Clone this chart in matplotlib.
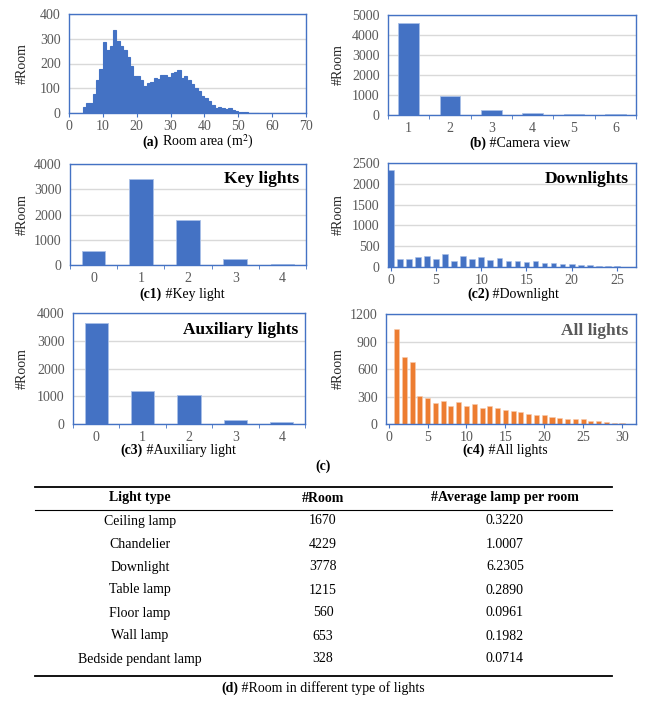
import numpy as np
import matplotlib
matplotlib.use("Agg")
import matplotlib.pyplot as plt
from matplotlib.lines import Line2D

plt.rcParams['font.family'] = ['Liberation Serif', 'DejaVu Serif']
plt.rcParams['mathtext.fontset'] = 'stix'

# ---------------- data ----------------
# (a) room area histogram, 1 m2 bins starting at 4
area_start = 4
area_counts = [24, 40, 39, 77, 135, 179, 287, 256, 271, 335, 292, 271, 256, 226, 191,
               148, 151, 133, 109, 121, 127, 143, 139, 152, 155, 147, 163, 166, 172, 143,
               148, 135, 118, 101, 88, 67, 61, 47, 31, 20, 23, 21, 16, 19, 13,
               7, 4, 4, 3, 2, 1, 1]

# (b) camera views
cam_views = [1, 2, 3, 4, 5, 6]
cam_counts = [4610, 950, 250, 100, 30, 50]

# (c1) key lights
key_n = [0, 1, 2, 3, 4]
key_counts = [556, 3390, 1775, 225, 53]

# (c2) downlights
down_n = list(range(0, 28))
down_counts = [2340, 192, 192, 240, 256, 184, 312, 144, 272, 200, 240, 168, 224, 144,
               136, 128, 136, 88, 88, 72, 72, 40, 40, 32, 16, 16, 8, 5]

# (c3) auxiliary lights
aux_n = [0, 1, 2, 3, 4]
aux_counts = [3640, 1177, 1033, 132, 72]

# (c4) all lights
all_n = list(range(1, 31))
all_counts = [1037, 736, 671, 308, 279, 228, 247, 199, 243, 199, 217, 178, 196, 174, 149,
              141, 134, 112, 98, 98, 80, 65, 51, 51, 58, 33, 29, 25, 14, 11]

# (d) table
light_types = ["Ceiling lamp", "Chandelier", "Downlight", "Table lamp", "Floor lamp",
               "Wall lamp", "Bedside pendant lamp"]
room_counts = ["1670", "4229", "3778", "1215", "560", "653", "328"]
avg_lamps = ["0.3220", "1.0007", "6.2305", "0.2890", "0.0961", "0.1982", "0.0714"]
table_header = ["Light type", "#Room", "#Average lamp per room"]

# ---------------- style ----------------
W, H = 646, 706
BLUE = "#4472C4"
ORANGE = "#ED7D31"
GRID = "#D9D9D9"
TICK = "#595959"
FS = 10

fig = plt.figure(figsize=(W / 100, H / 100), dpi=100)


def ax_at(l, t, r, b):
    return fig.add_axes([l / W, 1 - b / H, (r - l) / W, (b - t) / H])


def style(ax, ymax, ystep, ylabel_x, between=None):
    ax.set_ylim(0, ymax)
    ax.set_yticks(np.arange(0, ymax + 1, ystep))
    ax.yaxis.grid(True, color=GRID, lw=1)
    ax.set_axisbelow(True)
    for s in ax.spines.values():
        s.set_color(BLUE)
        s.set_linewidth(1)
    ax.tick_params(axis='y', length=0, labelsize=FS, labelcolor=TICK, pad=6)
    ax.tick_params(axis='x', length=3, color=BLUE, labelsize=FS, labelcolor=TICK, pad=2)
    if between is not None:
        # category axis: marks sit between the bars
        ax.set_xticks(between, minor=True)
        ax.tick_params(axis='x', which='major', length=0, pad=5)
        ax.tick_params(axis='x', which='minor', length=3, color=BLUE)
    bb = ax.get_position()
    fig.text(ylabel_x / W, (bb.y0 + bb.y1) / 2, "#Room", rotation=90, ha='center',
             va='center', fontsize=FS, color="#262626")


def caption(xc, y, bold, rest, size=FS):
    # y is the visual centre in pixels; text is set on its baseline
    r = fig.canvas.get_renderer()
    yb = 1 - (y + 4) / H
    t1 = fig.text(0, yb, bold, fontweight='bold', fontsize=size, va='baseline')
    t2 = fig.text(0, yb, " " + rest, fontsize=size, va='baseline')
    w1 = t1.get_window_extent(r).width
    w2 = t2.get_window_extent(r).width
    x0 = xc - (w1 + w2) / 2
    t1.set_x(x0 / W)
    t2.set_x((x0 + w1) / W)


def panel_title(ax, txt, color="black"):
    ax.text(0.97, 0.85, txt, transform=ax.transAxes, ha='right', va='center',
            fontsize=12.5, fontweight='bold', color=color)


# (a)
ax = ax_at(69, 14, 306, 113)
xs = np.arange(area_start, area_start + len(area_counts))
ax.bar(xs, area_counts, width=1, align='edge', color=BLUE, edgecolor=BLUE, lw=0.8)
ax.set_xlim(0, 70)
ax.set_xticks(np.arange(0, 71, 10))
style(ax, 400, 100, 22)
caption(198, 142, "(a)", "Room area (m$^2$)")

# (b)
ax = ax_at(388, 15, 636, 115)
ax.bar(cam_views, cam_counts, width=0.5, color=BLUE, edgecolor="#A9C0E8", lw=0.6)
ax.set_xlim(0.5, 6.5)
ax.set_xticks(cam_views)
style(ax, 5000, 1000, 338, between=np.arange(0.5, 6.6, 1))
caption(520, 143, "(b)", "#Camera view")

# (c1)
ax = ax_at(70, 164, 306, 265)
ax.bar(key_n, key_counts, width=0.5, color=BLUE, edgecolor="#A9C0E8", lw=0.6)
ax.set_xlim(-0.5, 4.5)
ax.set_xticks(key_n)
style(ax, 4000, 1000, 22, between=np.arange(-0.5, 4.6, 1))
panel_title(ax, "Key lights")
caption(182, 294, "(c1)", "#Key light")

# (c2)
ax = ax_at(388, 163, 636, 267)
ax.bar(down_n, down_counts, width=0.62, color=BLUE, edgecolor="#A9C0E8", lw=0.4)
ax.set_xlim(-0.3, 27.1)
ax.set_xticks(np.arange(0, 26, 5))
style(ax, 2500, 500, 338)
panel_title(ax, "Downlights")
caption(513, 294, "(c2)", "#Downlight")

# (c3)
ax = ax_at(73, 313, 305, 424)
ax.bar(aux_n, aux_counts, width=0.5, color=BLUE, edgecolor="#A9C0E8", lw=0.6)
ax.set_xlim(-0.5, 4.5)
ax.set_xticks(aux_n)
style(ax, 4000, 1000, 22, between=np.arange(-0.5, 4.6, 1))
panel_title(ax, "Auxiliary lights")
caption(178, 450, "(c3)", "#Auxiliary light")

# (c4)
ax = ax_at(386, 314, 636, 424)
ax.bar(all_n, all_counts, width=0.65, color=ORANGE, edgecolor="#F8CBAD", lw=0.4)
ax.set_xlim(-0.35, 31.8)
ax.set_xticks(np.arange(0, 31, 5))
style(ax, 1200, 300, 338)
panel_title(ax, "All lights", color=TICK)
caption(505, 450, "(c4)", "#All lights")

fig.text(323 / W, 1 - 466 / H, "(c)", ha='center', va='center', fontsize=FS,
         fontweight='bold')

# (d) table
x_left, x_right = 35, 612
for y, lw in [(487, 1.3), (510, 0.8), (676, 1.3)]:
    fig.add_artist(Line2D([x_left / W, x_right / W], [1 - y / H, 1 - y / H],
                          color='black', lw=lw))
col_x = [140, 323, 505]
for cx, h in zip(col_x, table_header):
    fig.text(cx / W, 1 - 498 / H, h, ha='center', va='center', fontsize=FS,
             fontweight='bold')
for i, (lt, rc, av) in enumerate(zip(light_types, room_counts, avg_lamps)):
    y = 521 + 23 * i
    for cx, v in zip(col_x, (lt, rc, av)):
        fig.text(cx / W, 1 - y / H, v, ha='center', va='center', fontsize=FS)

caption(323, 688, "(d)", "#Room in different type of lights")

fig.savefig("out.png", dpi=100)
